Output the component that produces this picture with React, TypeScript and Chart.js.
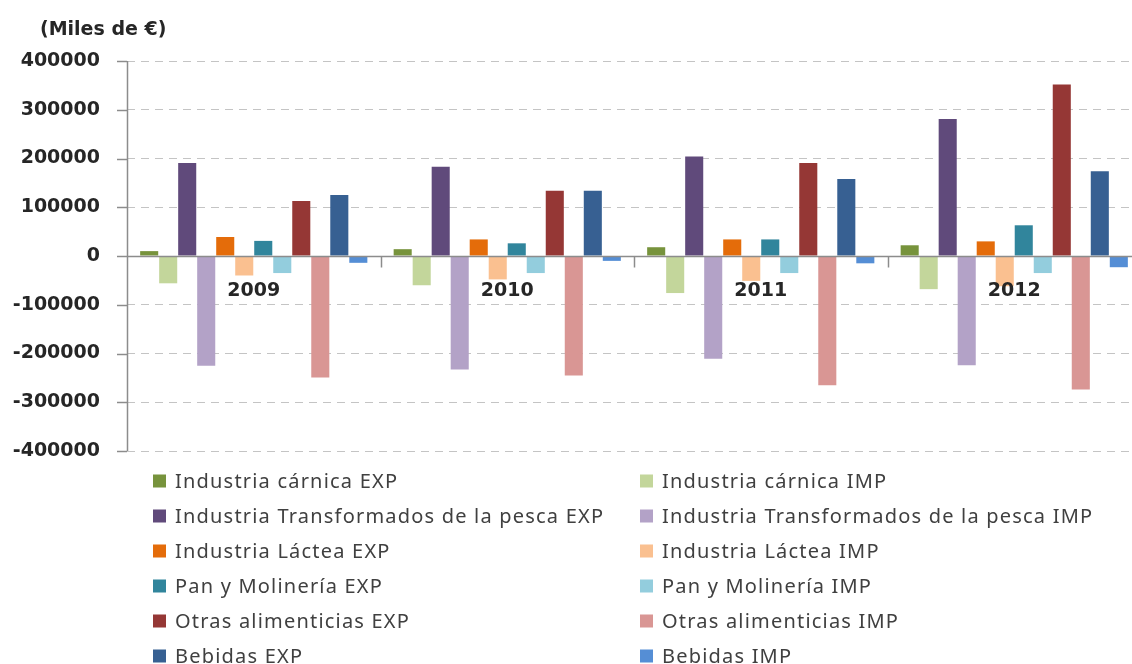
import React, { useEffect, useRef } from "react";
import { Chart, registerables } from "chart.js";

Chart.register(...registerables);

const categories = ["2009", "2010", "2011", "2012"];
const yTicks = [400000, 300000, 200000, 100000, 0, -100000, -200000, -300000, -400000];
const axisTitle = "(Miles de €)";

const seriesNames = [
  "Industria cárnica EXP",
  "Industria cárnica IMP",
  "Industria Transformados de la pesca EXP",
  "Industria Transformados de la pesca IMP",
  "Industria Láctea EXP",
  "Industria Láctea IMP",
  "Pan y Molinería EXP",
  "Pan y Molinería IMP",
  "Otras alimenticias EXP",
  "Otras alimenticias IMP",
  "Bebidas EXP",
  "Bebidas IMP",
];

const carnicaExp = [10000, 14000, 18000, 22000];
const carnicaImp = [-56000, -60000, -76000, -68000];
const pescaExp = [191000, 183000, 204000, 281000];
const pescaImp = [-225000, -233000, -211000, -224000];
const lacteaExp = [39000, 34000, 34000, 30000];
const lacteaImp = [-40000, -48000, -51000, -62000];
const panExp = [31000, 26000, 34000, 63000];
const panImp = [-35000, -35000, -35000, -35000];
const otrasExp = [113000, 134000, 191000, 352000];
const otrasImp = [-249000, -245000, -265000, -274000];
const bebidasExp = [125000, 134000, 158000, 174000];
const bebidasImp = [-14000, -10000, -15000, -23000];

const seriesValues = [
  carnicaExp, carnicaImp, pescaExp, pescaImp, lacteaExp, lacteaImp,
  panExp, panImp, otrasExp, otrasImp, bebidasExp, bebidasImp,
];

const seriesColors = [
  "#77933C", "#C3D69B", "#604A7B", "#B3A2C7", "#E46C0A", "#FAC090",
  "#31859C", "#93CDDD", "#953735", "#D99694", "#376092", "#558ED5",
];

const AXIS_COLOR = "#8c8c8c";
const TEXT_COLOR = "#262626";
const BOLD_FONT = "bold 19px 'DejaVu Sans', sans-serif";

const decorPlugin = {
  id: "decor",
  afterDatasetsDraw(chart: any) {
    const ctx = chart.ctx;
    const x = chart.scales.x;
    const y = chart.scales.y;
    const area = chart.chartArea;
    const zeroY = Math.round(y.getPixelForValue(0)) + 0.5;
    ctx.save();
    ctx.strokeStyle = AXIS_COLOR;
    ctx.lineWidth = 1.5;
    ctx.beginPath();
    ctx.moveTo(area.left + 0.5, area.top);
    ctx.lineTo(area.left + 0.5, area.bottom);
    ctx.stroke();
    yTicks.forEach((v) => {
      const py = Math.round(y.getPixelForValue(v)) + 0.5;
      ctx.beginPath();
      ctx.moveTo(area.left - 10, py);
      ctx.lineTo(area.left, py);
      ctx.stroke();
    });
    ctx.beginPath();
    ctx.moveTo(area.left, zeroY);
    ctx.lineTo(area.right, zeroY);
    ctx.stroke();
    const n = categories.length;
    for (let i = 1; i < n; i++) {
      const left = x.getPixelForValue(i - 1);
      const right = x.getPixelForValue(i);
      const bx = Math.round((left + right) / 2) + 0.5;
      ctx.beginPath();
      ctx.moveTo(bx, zeroY);
      ctx.lineTo(bx, zeroY + 11);
      ctx.stroke();
    }
    ctx.fillStyle = TEXT_COLOR;
    ctx.font = BOLD_FONT;
    ctx.textAlign = "center";
    ctx.textBaseline = "middle";
    categories.forEach((c, i) => {
      ctx.fillText(c, x.getPixelForValue(i), zeroY + 35);
    });
    ctx.restore();
  },
  afterDraw(chart: any) {
    const ctx = chart.ctx;
    ctx.save();
    ctx.fillStyle = TEXT_COLOR;
    ctx.font = "bold 19px 'DejaVu Sans', sans-serif";
    ctx.textAlign = "left";
    ctx.textBaseline = "middle";
    ctx.fillText(axisTitle, 40, 30);
    const colX = [153, 640];
    const rowY0 = 481;
    const rowGap = 35;
    ctx.font = "20px 'Noto Sans', sans-serif";
    try {
      (ctx as any).letterSpacing = "1.2px";
    } catch (e) {}
    chart.data.datasets.forEach((ds: any, i: number) => {
      const col = i % 2;
      const row = Math.floor(i / 2);
      const cx = colX[col];
      const cy = rowY0 + row * rowGap;
      ctx.fillStyle = ds.backgroundColor;
      ctx.fillRect(cx, cy - 6.5, 13, 13);
      ctx.fillStyle = "#404040";
      ctx.fillText(ds.label, cx + 22, cy + 1);
    });
    ctx.restore();
  },
};

export default function App() {
  const canvasRef = useRef<HTMLCanvasElement | null>(null);

  useEffect(() => {
    if (!canvasRef.current) return;
    const chart = new Chart(canvasRef.current, {
      type: "bar",
      data: {
        labels: categories,
        datasets: seriesNames.map((name, i) => ({
          label: name,
          data: seriesValues[i],
          backgroundColor: seriesColors[i],
          borderWidth: 0,
          categoryPercentage: 0.9,
          barPercentage: 0.95,
        })),
      },
      options: {
        responsive: false,
        animation: false,
        layout: { padding: { left: 0, top: 61, right: 4, bottom: 213 } },
        plugins: {
          legend: { display: false },
          tooltip: { enabled: false },
          title: { display: false },
        },
        scales: {
          x: { display: false },
          y: {
            min: -400000,
            max: 400000,
            afterFit: (scale: any) => {
              scale.width = 127;
            },
            ticks: {
              stepSize: 100000,
              padding: 27,
              color: TEXT_COLOR,
              font: { family: "'DejaVu Sans', sans-serif", size: 19, weight: "bold" },
              callback: (v: any) => String(v),
            },
            grid: {
              color: "#c4c4c4",
              lineWidth: 1,
              drawTicks: false,
            },
            border: { display: false, dash: [8, 6] },
          },
        },
      },
      plugins: [decorPlugin],
    });
    return () => chart.destroy();
  }, []);

  return (
    <div
      style={{
        position: "absolute",
        left: 0,
        top: 0,
        width: 1132,
        height: 664,
        overflow: "hidden",
        background: "#fff",
      }}
    >
      <canvas ref={canvasRef} width={1145} height={664} style={{ display: "block" }} />
    </div>
  );
}
